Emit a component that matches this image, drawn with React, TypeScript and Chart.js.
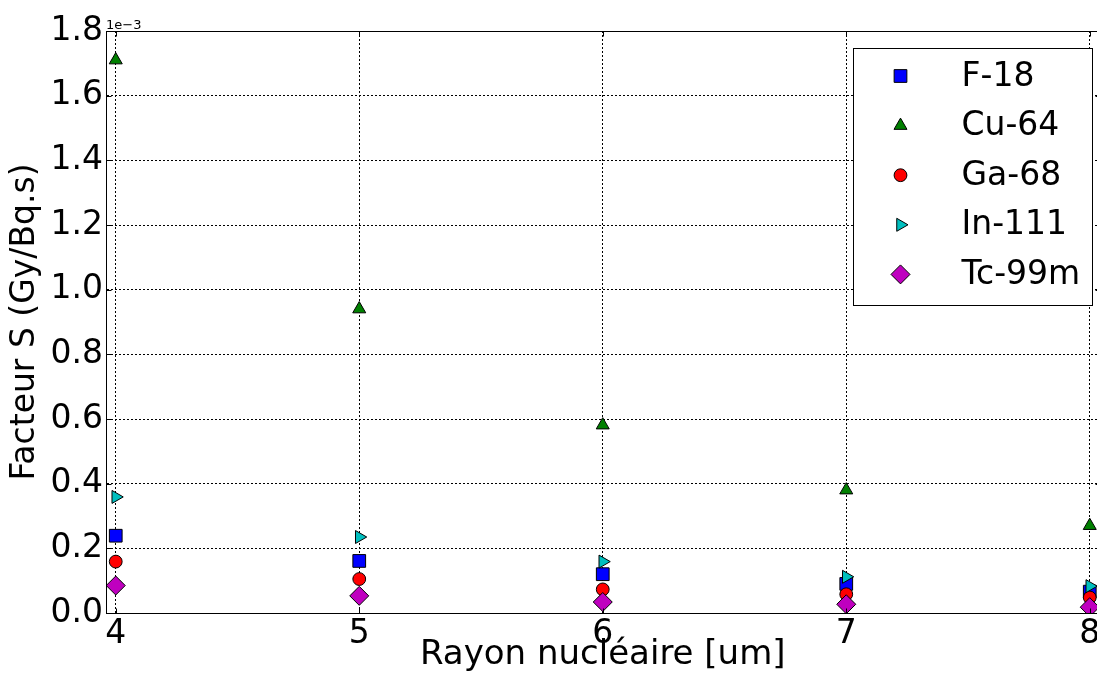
import React, { useEffect, useRef } from 'react';
import { Chart, registerables } from 'chart.js';

Chart.register(...registerables);

// ---- data (values in units of 1e-3 Gy/Bq.s) ----
const radii = [4, 5, 6, 7, 8];
const seriesNames = ['F-18', 'Cu-64', 'Ga-68', 'In-111', 'Tc-99m'];
const f18 = [0.239, 0.161, 0.12, 0.09, 0.066];
const cu64 = [1.71, 0.94, 0.581, 0.38, 0.27];
const ga68 = [0.159, 0.105, 0.073, 0.058, 0.048];
const in111 = [0.359, 0.235, 0.159, 0.112, 0.083];
const tc99m = [0.085, 0.053, 0.034, 0.027, 0.018];
const xTicks = [4, 5, 6, 7, 8];
const yTicks = [0, 0.2, 0.4, 0.6, 0.8, 1.0, 1.2, 1.4, 1.6, 1.8];
const xTitle = 'Rayon nucléaire [um]';
const yTitle = 'Facteur S (Gy/Bq.s)';
const offsetText = '1e\u22123';

// ---- styles ----
const seriesValues = [f18, cu64, ga68, in111, tc99m];
const colors = ['#0000ff', '#008000', '#ff0000', '#00bfbf', '#bf00bf'];
const pointStyles = ['rect', 'triangle', 'circle', 'triangle', 'rectRot'];
const rotations = [0, 0, 0, 90, 0];
const pointRadii = [9, 7.5, 6.4, 7.5, 9.5];
const FONT = '"DejaVu Sans", "Liberation Sans", sans-serif';

function drawMarker(ctx: CanvasRenderingContext2D, style: string, rotation: number, x: number, y: number, r: number, fill: string) {
  ctx.beginPath();
  let rad = (rotation * Math.PI) / 180;
  if (style === 'rect') {
    const s = Math.SQRT1_2 * r;
    ctx.rect(x - s, y - s, 2 * s, 2 * s);
  } else if (style === 'circle') {
    ctx.arc(x, y, r, 0, Math.PI * 2);
  } else if (style === 'triangle') {
    ctx.moveTo(x + Math.sin(rad) * r, y - Math.cos(rad) * r);
    rad += (2 * Math.PI) / 3;
    ctx.lineTo(x + Math.sin(rad) * r, y - Math.cos(rad) * r);
    rad += (2 * Math.PI) / 3;
    ctx.lineTo(x + Math.sin(rad) * r, y - Math.cos(rad) * r);
    ctx.closePath();
  } else if (style === 'rectRot') {
    ctx.moveTo(x - r, y);
    ctx.lineTo(x, y - r);
    ctx.lineTo(x + r, y);
    ctx.lineTo(x, y + r);
    ctx.closePath();
  }
  ctx.fillStyle = fill;
  ctx.fill();
  ctx.strokeStyle = '#000';
  ctx.lineWidth = 1;
  ctx.stroke();
}

const framePlugin = {
  id: 'mplFrame',
  afterDraw(chart: any) {
    const { ctx, chartArea: a, scales } = chart;
    ctx.save();
    const L = Math.round(a.left) + 0.5;
    const T = Math.round(a.top) + 0.5;
    const R = Math.round(a.right) + 0.5;
    const B = Math.round(a.bottom) + 0.5;
    ctx.strokeStyle = '#000';
    ctx.lineWidth = 1;
    ctx.setLineDash([]);
    ctx.strokeRect(L, T, R - L, B - T);
    // inward tick marks
    ctx.beginPath();
    for (const v of yTicks) {
      const y = Math.round(scales.y.getPixelForValue(v)) + 0.5;
      ctx.moveTo(L, y); ctx.lineTo(L + 5, y);
      ctx.moveTo(R, y); ctx.lineTo(R - 5, y);
    }
    for (const v of xTicks) {
      const x = Math.round(scales.x.getPixelForValue(v)) + 0.5;
      ctx.moveTo(x, B); ctx.lineTo(x, B - 5);
      ctx.moveTo(x, T); ctx.lineTo(x, T + 5);
    }
    ctx.stroke();
    // offset text
    ctx.fillStyle = '#000';
    ctx.font = `13px ${FONT}`;
    ctx.textAlign = 'left';
    ctx.textBaseline = 'alphabetic';
    ctx.fillText(offsetText, a.left, a.top - 2);
    // legend
    const lx = Math.round(a.right - 247) + 0.5;
    const ly = Math.round(a.top + 17) + 0.5;
    const lw = 239;
    const lh = 257;
    ctx.fillStyle = '#fff';
    ctx.fillRect(lx, ly, lw, lh);
    ctx.strokeStyle = '#000';
    ctx.strokeRect(lx, ly, lw, lh);
    ctx.font = `33px ${FONT}`;
    ctx.textBaseline = 'middle';
    for (let i = 0; i < seriesNames.length; i++) {
      const cy = ly + 27.5 + i * 49.6;
      drawMarker(ctx, pointStyles[i], rotations[i], lx + 47, cy, pointRadii[i], colors[i]);
      ctx.fillStyle = '#000';
      ctx.fillText(seriesNames[i], lx + 108, cy + 1);
    }
    ctx.restore();
  },
};

export default function App() {
  const ref = useRef<HTMLCanvasElement | null>(null);
  useEffect(() => {
    if (!ref.current) return;
    const datasets = seriesNames.map((name, i) => ({
      label: name,
      data: radii.map((r, j) => ({ x: r, y: seriesValues[i][j] })),
      showLine: false,
      pointStyle: pointStyles[i],
      rotation: rotations[i],
      pointRadius: pointRadii[i],
      pointHoverRadius: pointRadii[i],
      backgroundColor: colors[i],
      borderColor: '#000',
      pointBorderWidth: 1,
      order: seriesNames.length - i,
    }));
    const gridOpts = {
      display: true,
      color: '#000',
      lineWidth: 1,
      drawTicks: false,
    };
    const chart = new Chart(ref.current, {
      type: 'scatter',
      data: { datasets },
      plugins: [framePlugin],
      options: {
        animation: false,
        responsive: false,
        devicePixelRatio: 1,
        events: [],
        layout: { padding: { left: 0, top: 31, right: 10, bottom: 0 } },
        plugins: { legend: { display: false }, tooltip: { enabled: false } },
        scales: {
          x: {
            type: 'linear',
            min: 3.96,
            max: 8.04,
            z: 1,
            afterBuildTicks: (s: any) => { s.ticks = xTicks.map((v) => ({ value: v })); },
            afterFit: (s: any) => { s.height = 87; },
            grid: gridOpts,
            border: { display: true, color: '#000', width: 1, dash: [2, 2] },
            ticks: {
              color: '#000',
              font: { family: FONT, size: 33, lineHeight: 1.2 },
              padding: 2,
              maxRotation: 0,
              autoSkip: false,
              callback: (v: any) => String(v),
            },
            title: {
              display: true,
              text: xTitle,
              color: '#000',
              font: { family: FONT, size: 34, lineHeight: 1.2 },
              padding: { top: 0, bottom: 24 },
            },
          },
          y: {
            type: 'linear',
            min: 0,
            max: 1.8,
            z: 1,
            afterBuildTicks: (s: any) => { s.ticks = yTicks.map((v) => ({ value: v })); },
            afterFit: (s: any) => { s.width = 106; },
            grid: gridOpts,
            border: { display: true, color: '#000', width: 1, dash: [2, 2] },
            ticks: {
              color: '#000',
              font: { family: FONT, size: 33, lineHeight: 1.2 },
              padding: 3,
              autoSkip: false,
              callback: (v: any) => Number(v).toFixed(1),
            },
            title: {
              display: true,
              text: yTitle,
              color: '#000',
              font: { family: FONT, size: 33, lineHeight: 1.2 },
              padding: { top: 6, bottom: 0 },
            },
          },
        },
      },
    } as any);
    return () => chart.destroy();
  }, []);
  return (
    <div style={{ position: 'fixed', left: 0, top: 0, width: 1097, height: 673, overflow: 'hidden', background: '#fff' }}>
      <canvas ref={ref} width={1110} height={700} style={{ display: 'block', width: 1110, height: 700 }} />
    </div>
  );
}
